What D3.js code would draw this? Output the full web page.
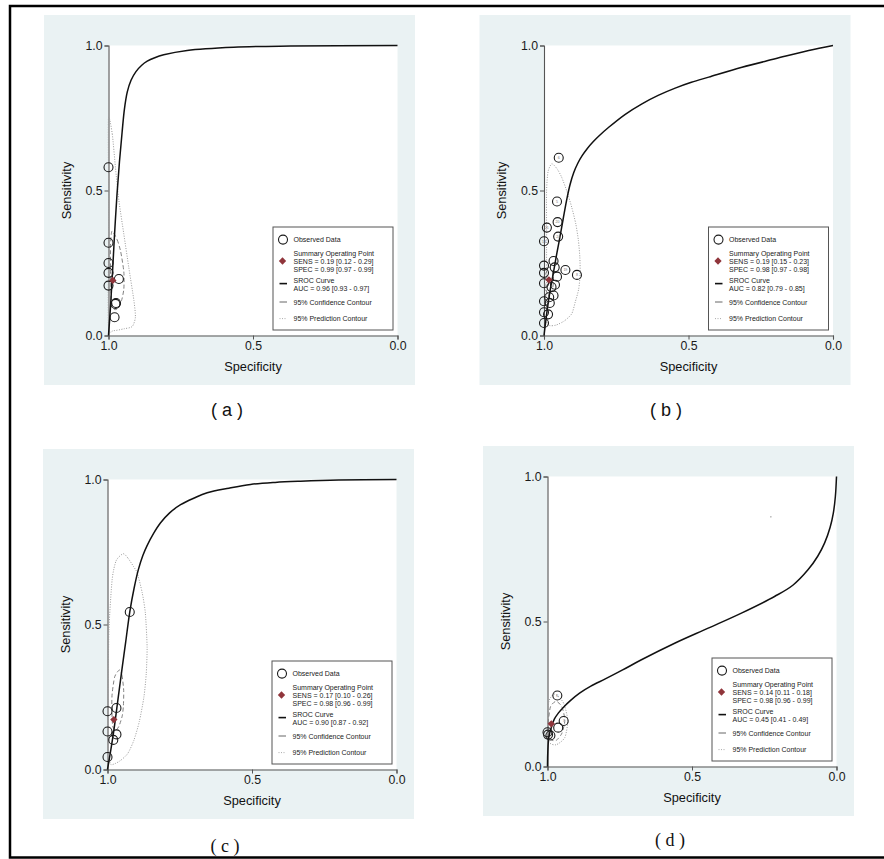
<!DOCTYPE html>
<html><head><meta charset="utf-8">
<script src="https://cdn.jsdelivr.net/npm/d3@7"></script>
<style>body{margin:0;background:#fff}svg{display:block}</style>
</head><body>
<svg id="chart" width="884" height="859"></svg>
<script>
// ---------- DATA (spec, sens) ----------
const panelIds = ["a", "b", "c", "d"];
const tickValues = [0, 0.5, 1];

const observedA = [[1.0,0.58],[1.0,0.32],[1.0,0.25],[1.0,0.216],[1.0,0.172],[0.964,0.195],[0.976,0.109],[0.974,0.112],[0.979,0.063]];
const labelsA = ["","","","","","","","",""];
const summaryA = [0.985, 0.19];
const srocA = [[1,0],[0.993,0.1],[0.986,0.22],[0.979,0.35],[0.971,0.48],[0.962,0.6],[0.953,0.7],[0.945,0.78],[0.935,0.84],[0.922,0.88],[0.905,0.91],[0.885,0.932],[0.866,0.946],[0.84,0.958],[0.809,0.968],[0.728,0.983],[0.567,0.994],[0.37,0.998],[0,1.0]];
const confA = [[0.988,0.36],[0.97,0.33],[0.958,0.29],[0.947,0.22],[0.947,0.16],[0.955,0.12],[0.966,0.095],[0.98,0.09],[0.99,0.12],[0.993,0.22],[0.993,0.31]];
const predA = [[1.0,0.75],[0.987,0.695],[0.976,0.58],[0.964,0.465],[0.947,0.35],[0.93,0.236],[0.912,0.12],[0.907,0.063],[0.918,0.031],[0.947,0.023],[0.982,0.017],[1.0,0.03],[1.0,0.3],[1.0,0.55]];
const legendA = ["SENS = 0.19 [0.12 - 0.29]", "SPEC = 0.99 [0.97 - 0.99]", "AUC = 0.96 [0.93 - 0.97]"];

const observedB = [[0.949,0.613],[0.955,0.462],[0.953,0.391],[0.99,0.372],[0.951,0.341],[1.0,0.325],[0.967,0.257],[1.0,0.241],[0.963,0.235],[0.926,0.226],[0.886,0.209],[1.0,0.216],[0.955,0.203],[1.0,0.18],[0.962,0.175],[0.974,0.167],[0.967,0.138],[0.982,0.132],[1.0,0.118],[0.98,0.112],[1.0,0.08],[0.986,0.073],[1.0,0.043]];
const labelsB = ["6","5","20","21","24","14","","","","19","8","","","","","","","","","","","",""];
const summaryB = [0.983, 0.192];
const srocB = [[1,0],[0.99,0.08],[0.978,0.16],[0.968,0.213],[0.958,0.27],[0.947,0.328],[0.934,0.4],[0.921,0.47],[0.91,0.52],[0.897,0.562],[0.883,0.594],[0.868,0.62],[0.85,0.645],[0.83,0.668],[0.81,0.688],[0.776,0.718],[0.72,0.762],[0.661,0.799],[0.605,0.828],[0.546,0.853],[0.49,0.873],[0.43,0.891],[0.315,0.925],[0.2,0.954],[0.084,0.983],[0,1]];
const confB = [[0.985,0.235],[0.972,0.225],[0.967,0.19],[0.972,0.155],[0.985,0.145],[0.995,0.16],[0.997,0.2]];
const predB = [[0.973,0.592],[0.955,0.575],[0.939,0.546],[0.92,0.495],[0.904,0.442],[0.89,0.385],[0.881,0.328],[0.876,0.27],[0.875,0.213],[0.88,0.16],[0.892,0.115],[0.904,0.075],[0.93,0.05],[0.958,0.036],[0.979,0.034],[0.99,0.045],[0.991,0.15],[0.991,0.35],[0.991,0.5],[0.986,0.565]];
const legendB = ["SENS = 0.19 [0.15 - 0.23]", "SPEC = 0.98 [0.97 - 0.98]", "AUC = 0.82 [0.79 - 0.85]"];

const observedC = [[0.923,0.543],[1.0,0.201],[0.969,0.212],[1.0,0.131],[0.969,0.121],[0.98,0.102],[1.0,0.043]];
const labelsC = ["","","","","","",""];
const summaryC = [0.978, 0.172];
const srocC = [[1,0],[0.989,0.065],[0.978,0.135],[0.964,0.24],[0.95,0.345],[0.937,0.44],[0.923,0.543],[0.908,0.625],[0.893,0.69],[0.878,0.737],[0.863,0.772],[0.84,0.815],[0.817,0.85],[0.785,0.885],[0.747,0.913],[0.7,0.936],[0.655,0.954],[0.58,0.97],[0.505,0.983],[0.42,0.99],[0.332,0.994],[0.2,0.998],[0,1.0]];
const confC = [[0.959,0.343],[0.95,0.325],[0.944,0.273],[0.945,0.22],[0.949,0.185],[0.96,0.15],[0.972,0.135],[0.982,0.15],[0.985,0.21],[0.984,0.26],[0.975,0.32]];
const predC = [[0.946,0.744],[0.93,0.73],[0.91,0.7],[0.897,0.677],[0.88,0.61],[0.869,0.539],[0.863,0.423],[0.866,0.33],[0.874,0.25],[0.89,0.165],[0.909,0.1],[0.93,0.055],[0.955,0.031],[0.975,0.02],[0.99,0.02],[0.998,0.08],[0.998,0.25],[0.995,0.48],[0.984,0.654],[0.97,0.72]];
const legendC = ["SENS = 0.17 [0.10 - 0.26]", "SPEC = 0.98 [0.96 - 0.99]", "AUC = 0.90 [0.87 - 0.92]"];

const observedD = [[0.966,0.245],[0.944,0.157],[0.963,0.134],[1.0,0.118],[0.99,0.107],[0.998,0.11]];
const labelsD = ["6","7","","","",""];
const summaryD = [0.987, 0.147];
const srocD = [[1,0],[0.999,0.05],[0.995,0.104],[0.985,0.14],[0.976,0.164],[0.962,0.185],[0.947,0.202],[0.92,0.228],[0.889,0.253],[0.85,0.277],[0.8,0.302],[0.74,0.333],[0.675,0.368],[0.56,0.425],[0.444,0.477],[0.329,0.529],[0.213,0.587],[0.15,0.626],[0.098,0.679],[0.065,0.725],[0.041,0.771],[0.022,0.825],[0.011,0.874],[0.004,0.93],[0,1.0]];
const confD = [[0.97,0.225],[0.95,0.205],[0.94,0.16],[0.95,0.115],[0.97,0.09],[0.99,0.095],[0.998,0.14],[0.99,0.205]];
const predD = [[0.975,0.25],[0.945,0.22],[0.93,0.16],[0.94,0.1],[0.97,0.075],[0.995,0.085],[1.0,0.15],[0.995,0.225]];
const strayD = [[0.227,0.861]];
const legendD = ["SENS = 0.14 [0.11 - 0.18]", "SPEC = 0.98 [0.96 - 0.99]", "AUC = 0.45 [0.41 - 0.49]"];

const panelData = {
  a: {obs: observedA, labels: labelsA, summary: summaryA, sroc: srocA, conf: confA, pred: predA, legend: legendA, stray: []},
  b: {obs: observedB, labels: labelsB, summary: summaryB, sroc: srocB, conf: confB, pred: predB, legend: legendB, stray: []},
  c: {obs: observedC, labels: labelsC, summary: summaryC, sroc: srocC, conf: confC, pred: predC, legend: legendC, stray: []},
  d: {obs: observedD, labels: labelsD, summary: summaryD, sroc: srocD, conf: confD, pred: predD, legend: legendD, stray: strayD}
};

// ---------- LAYOUT ----------
const layout = {
  a: {bx: 44, by: 15, lx: 227, ly: 410, serif: false},
  b: {bx: 479.5, by: 15, lx: 666, ly: 410, serif: false},
  c: {bx: 43, by: 449, lx: 225, ly: 846, serif: true},
  d: {bx: 483, by: 446, lx: 670, ly: 840, serif: true}
};
const BG_W = 371, BG_H = 370, PX = 64.5, PY = 30.5, PW = 289, PH = 290;
const bgColor = "rgb(234,242,243)";
const diamondColor = "#90353b";
const sans = "Liberation Sans, Arial, Helvetica, sans-serif";
const serif = "Liberation Serif, Times New Roman, serif";

const svg = d3.select("#chart");

// outer figure frame (top, left, bottom)
svg.append("path")
  .attr("d", "M884,6 L10,6 L10,857.5 L884,857.5")
  .attr("fill", "none").attr("stroke", "#000").attr("stroke-width", 2.5);

panelIds.forEach(id => {
  const L = layout[id], D = panelData[id];
  const g = svg.append("g");
  g.append("rect").attr("x", L.bx).attr("y", L.by).attr("width", BG_W).attr("height", BG_H).attr("fill", bgColor);
  const x0 = L.bx + PX, y0 = L.by + PY;
  g.append("rect").attr("x", x0).attr("y", y0).attr("width", PW).attr("height", PH).attr("fill", "#fff");

  const x = d3.scaleLinear().domain([1, 0]).range([x0, x0 + PW]);
  const y = d3.scaleLinear().domain([0, 1]).range([y0 + PH, y0]);

  const fmt = d3.format(".1f");
  const xAxis = g.append("g").attr("transform", `translate(0,${y0 + PH})`)
    .call(d3.axisBottom(x).tickValues(tickValues).tickFormat(fmt).tickSize(4).tickPadding(2));
  const yAxis = g.append("g").attr("transform", `translate(${x0},0)`)
    .call(d3.axisLeft(y).tickValues(tickValues).tickFormat(fmt).tickSize(4).tickPadding(2));
  [xAxis, yAxis].forEach(a => {
    a.select(".domain").attr("stroke", "#555").attr("stroke-width", 1.1);
    a.selectAll(".tick line").attr("stroke", "#555");
    a.selectAll(".tick text").attr("font-family", sans).attr("font-size", 12.3).attr("fill", "#1a1a1a");
  });

  g.append("text").attr("x", x0 + PW / 2).attr("y", y0 + PH + 35)
    .attr("text-anchor", "middle").attr("font-family", sans).attr("font-size", 12.8).attr("fill", "#111")
    .text("Specificity");
  g.append("text").attr("transform", `translate(${x0 - 38},${y0 + PH / 2}) rotate(-90)`)
    .attr("text-anchor", "middle").attr("font-family", sans).attr("font-size", 12.8).attr("fill", "#111")
    .text("Sensitivity");

  const line = d3.line().x(d => x(d[0])).y(d => y(d[1]));

  // prediction contour
  g.append("path").datum(D.pred).attr("d", line.curve(d3.curveCardinalClosed.tension(0.3)))
    .attr("fill", "none").attr("stroke", "#9a9a9a").attr("stroke-width", 1).attr("stroke-dasharray", "1,1.5");
  // confidence contour
  g.append("path").datum(D.conf).attr("d", line.curve(d3.curveCardinalClosed.tension(0.3)))
    .attr("fill", "none").attr("stroke", "#808080").attr("stroke-width", 1).attr("stroke-dasharray", "4,2.5");
  // SROC curve
  g.append("path").datum(D.sroc).attr("d", line.curve(d3.curveCatmullRom.alpha(0.5)))
    .attr("fill", "none").attr("stroke", "#111").attr("stroke-width", 1.5);

  // observed points
  const pts = g.append("g");
  D.obs.forEach((p, i) => {
    pts.append("circle").attr("cx", x(p[0])).attr("cy", y(p[1])).attr("r", 4.5)
      .attr("fill", "none").attr("stroke", "#1a1a1a").attr("stroke-width", 1.1);
    if (D.labels[i]) {
      pts.append("text").attr("x", x(p[0])).attr("y", y(p[1]) + 1.3).attr("text-anchor", "middle")
        .attr("font-family", sans).attr("font-size", 3.6).attr("fill", "#777").text(D.labels[i]);
    }
  });
  D.stray.forEach(p => {
    g.append("circle").attr("cx", x(p[0])).attr("cy", y(p[1])).attr("r", 0.6).attr("fill", "#666");
  });

  // summary point
  g.append("path").attr("d", d3.symbol().type(d3.symbolDiamond2).size(34)())
    .attr("transform", `translate(${x(D.summary[0])},${y(D.summary[1])})`).attr("fill", diamondColor);

  // legend
  const lgx = x0 + 164.5, lgy = y0 + 181.5;
  const lg = g.append("g").attr("transform", `translate(${lgx},${lgy})`);
  lg.append("rect").attr("width", 120).attr("height", 103).attr("fill", "#fff").attr("stroke", "#555").attr("stroke-width", 1);
  lg.append("circle").attr("cx", 10).attr("cy", 12.6).attr("r", 4.5).attr("fill", "none").attr("stroke", "#1a1a1a").attr("stroke-width", 1.1);
  lg.append("path").attr("d", d3.symbol().type(d3.symbolDiamond2).size(34)())
    .attr("transform", "translate(9.5,34)").attr("fill", diamondColor);
  lg.append("line").attr("x1", 6.5).attr("x2", 14).attr("y1", 56.6).attr("y2", 56.6).attr("stroke", "#111").attr("stroke-width", 1.6);
  lg.append("line").attr("x1", 6.5).attr("x2", 14).attr("y1", 75).attr("y2", 75).attr("stroke", "#666").attr("stroke-width", 1);
  lg.append("line").attr("x1", 6.5).attr("x2", 14).attr("y1", 91.6).attr("y2", 91.6).attr("stroke", "#aaa").attr("stroke-width", 1).attr("stroke-dasharray", "1,1.5");
  const legendLines = [
    ["Observed Data", 15],
    ["Summary Operating Point", 29],
    [D.legend[0], 37],
    [D.legend[1], 45],
    ["SROC Curve", 55.8],
    [D.legend[2], 63.8],
    ["95% Confidence Contour", 77.5],
    ["95% Prediction Contour", 94]
  ];
  legendLines.forEach(([t, yy]) => {
    lg.append("text").attr("x", 20.5).attr("y", yy).attr("font-family", sans).attr("font-size", 7)
      .attr("fill", "#222").text(t);
  });

  // panel label
  svg.append("text").attr("x", L.lx).attr("y", L.ly + 6).attr("text-anchor", "middle")
    .attr("font-family", L.serif ? serif : sans).attr("font-size", 18).attr("fill", "#111")
    .text(`( ${id} )`);
});
</script>
</body></html>
